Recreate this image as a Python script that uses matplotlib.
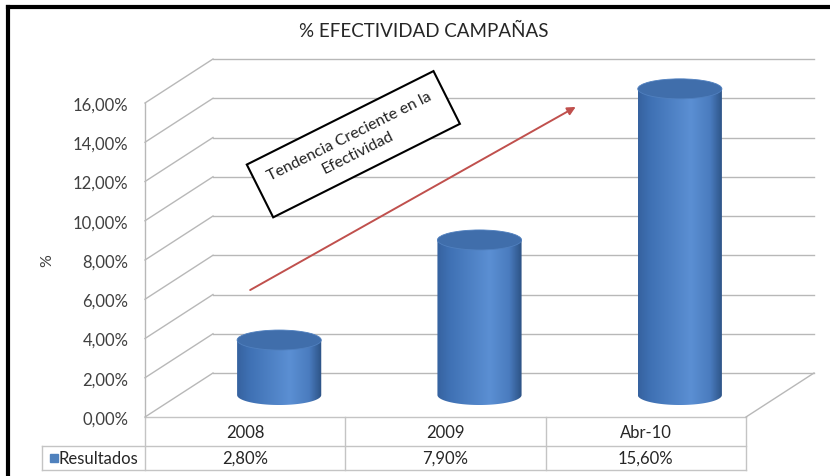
import numpy as np
import matplotlib
matplotlib.use("Agg")
import matplotlib.pyplot as plt
from matplotlib import transforms
from matplotlib.patches import Ellipse, PathPatch
from matplotlib.path import Path
from matplotlib.colors import LinearSegmentedColormap
from matplotlib.lines import Line2D

# data
categories = ["2008", "2009", "Abr-10"]
values = [2.80, 7.90, 15.60]
series_name = "Resultados"
y_ticks = [0, 2, 4, 6, 8, 10, 12, 14, 16]
title = "% EFECTIVIDAD CAMPAÑAS"
note = "Tendencia Creciente en la\nEfectividad"

plt.rcParams["font.family"] = ["Lato", "DejaVu Sans"]

W, H = 830, 477
fig = plt.figure(figsize=(W / 100, H / 100), dpi=100)
fig.patch.set_facecolor("white")

# front plane of the 3d box
ax = fig.add_axes([145 / W, (H - 418) / H, 601 / W, 314 / H])
ax.set_xlim(-0.5, len(categories) - 0.5)
ax.set_ylim(0, 16)
for s in ax.spines.values():
    s.set_visible(False)
ax.set_xticks([])
ax.set_yticks(y_ticks)
ax.set_yticklabels([f"{v:.2f}%".replace(".", ",") for v in y_ticks])
ax.tick_params(axis="y", length=0, pad=12, labelsize=12, labelcolor="#404040")
ax.set_ylabel("%", fontsize=11.5, color="#404040", labelpad=13)
ax.patch.set_visible(False)

back = transforms.offset_copy(ax.transData, fig=fig, x=68, y=44, units="dots")
mid = transforms.offset_copy(ax.transData, fig=fig, x=34, y=22, units="dots")

grid_c = "#b8b8b8"
x0, x1 = -0.5, len(categories) - 0.5
for v in y_ticks:
    ax.plot([x0, x1], [v, v], color=grid_c, lw=1, transform=back, clip_on=False, zorder=1)
ax.plot([x0, x0], [0, 16], color=grid_c, lw=1, clip_on=False, zorder=1)

# diagonals: join front point to back point
def diag(x, y):
    p0 = ax.transData.transform((x, y))
    p1 = back.transform((x, y))
    fig.add_artist(Line2D([p0[0], p1[0]], [p0[1], p1[1]], color=grid_c, lw=1,
                          transform=None, zorder=1))

for v in y_ticks:
    diag(x0, v)
diag(x1, 0)

# cylinders
bw = 0.42
eh = 1.02
cmap = LinearSegmentedColormap.from_list(
    "cyl", [(0, "#36629f"), (0.15, "#3f71b4"), (0.62, "#5b8fd3"),
            (0.85, "#4a7cbf"), (1.0, "#2c5284")])
grad = np.linspace(0, 1, 256).reshape(1, -1)
for i, v in enumerate(values):
    t = np.linspace(np.pi, 2 * np.pi, 60)
    xs = [i - bw / 2, i - bw / 2] + list(i + bw / 2 * np.cos(t)) + [i + bw / 2, i - bw / 2]
    ys = [v, 0] + list(eh / 2 * np.sin(t)) + [v, v]
    body = PathPatch(Path(np.column_stack([xs, ys])), transform=mid,
                     facecolor="none", edgecolor="none")
    ax.add_patch(body)
    img = ax.imshow(grad, cmap=cmap, aspect="auto", extent=[i - bw / 2, i + bw / 2, -eh / 2, v],
                    transform=mid, zorder=3, interpolation="bilinear")
    img.set_clip_path(body)
    img.set_clip_box(fig.bbox)
    top = Ellipse((i, v), bw, eh, transform=mid, facecolor="#406eab",
                  edgecolor="#5080bf", lw=0.6, zorder=4, clip_on=False)
    ax.add_patch(top)

ax.set_xlim(-0.5, len(categories) - 0.5)
ax.set_ylim(0, 16)

# trend arrow and note
ax.annotate("", xy=(1.65, 15.8), xytext=(0.025, 6.47),
            arrowprops=dict(arrowstyle="-|>", color="#c0504d", lw=1.4,
                            mutation_scale=12, shrinkA=0, shrinkB=0),
            zorder=5, annotation_clip=False)
ax.text(0.54, 13.9, note, rotation=26.6, rotation_mode="anchor", ha="center", va="center",
        fontsize=11.5, color="#222222", linespacing=1.35, zorder=6,
        bbox=dict(boxstyle="square,pad=0.85", facecolor="white", edgecolor="black", lw=1.5))

fig.text(424 / W, 1 - 31 / H, title, ha="center", va="center", fontsize=13.5, color="#262626")

# data table
tax = fig.add_axes([145 / W, (H - 471) / H, 601 / W, 53 / H])
tax.set_xlim(-0.5, len(categories) - 0.5)
tax.set_ylim(53, 0)
tax.axis("off")
tc = "#c4c4c4"
lx = -0.5 - 103 / 200.3
tax.plot([x0, x1], [0, 0], color=tc, lw=1, clip_on=False)
tax.plot([lx, x1], [29, 29], color=tc, lw=1, clip_on=False)
tax.plot([lx, x1], [53, 53], color=tc, lw=1, clip_on=False)
tax.plot([lx, lx], [29, 53], color=tc, lw=1, clip_on=False)
for b in np.arange(-0.5, len(categories), 1.0):
    tax.plot([b, b], [0, 53], color=tc, lw=1, clip_on=False)
for i, (c, v) in enumerate(zip(categories, values)):
    tax.text(i, 15, c, ha="center", va="center", fontsize=12, color="#262626")
    tax.text(i, 41, f"{v:.2f}%".replace(".", ","), ha="center", va="center",
             fontsize=12, color="#262626")
tax.plot([-0.5 - 91 / 200.3], [41], marker="s", ms=6, color="#4f81bd", clip_on=False)
tax.text(-0.5 - 86 / 200.3, 41, series_name, ha="left", va="center", fontsize=12, color="#262626")

# outer black frame (left and top)
fig.add_artist(Line2D([8 / W, 8 / W], [0, 1 - 8 / H], color="black", lw=3, transform=fig.transFigure))
fig.add_artist(Line2D([8 / W, 1], [1 - 8 / H, 1 - 8 / H], color="black", lw=3, transform=fig.transFigure))

fig.savefig("out.png", dpi=100)
